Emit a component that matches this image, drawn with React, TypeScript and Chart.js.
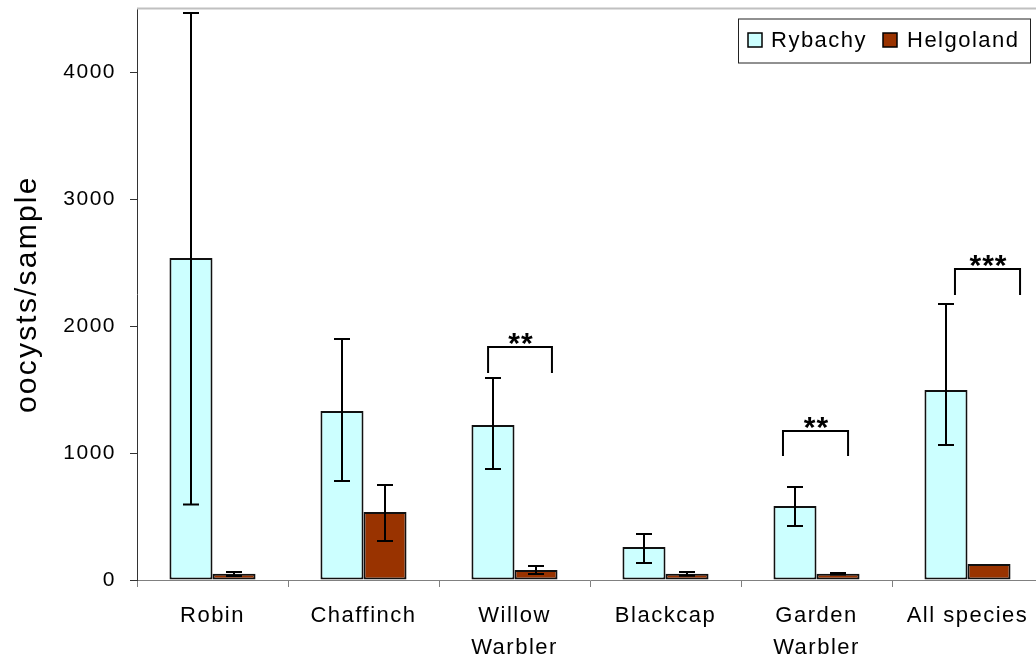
import React, { useEffect, useRef } from 'react';
import { Chart, registerables } from 'chart.js';

Chart.register(...registerables);

const categories: (string | string[])[] = ['Robin', 'Chaffinch', ['Willow', 'Warbler'], 'Blackcap', ['Garden', 'Warbler'], 'All species'];
const seriesNames = ['Rybachy', 'Helgoland'];
const rybachy = [2535, 1331, 1220, 260, 583, 1496];
const rybachyLow = [595, 780, 874, 134, 425, 1063];
const rybachyHigh = [4465, 1898, 1590, 362, 732, 2173];
const helgoland = [50, 535, 79, 50, 50, 126];
const helgolandLow: (number | null)[] = [31, 307, 47, 34, 44, null];
const helgolandHigh: (number | null)[] = [63, 748, 110, 63, 56, null];
const yTicks = [0, 1000, 2000, 3000, 4000];
const yMax = 4500;
const yTitle = 'oocysts/sample';

// significance brackets
const sigIndex = [2, 4, 5];
const sigLabels = ['**', '**', '***'];
const sigLeft = [-0.175, -0.222, -0.083];
const sigRight = [0.248, 0.209, 0.348];
const sigTop = [1835, 1173, 2449];
const sigBottom = [1630, 976, 2244];

const FONT = '"Liberation Sans", Arial, Helvetica, sans-serif';
const colors = ['#CCFFFF', '#993300'];

export default function App() {
  const ref = useRef<HTMLCanvasElement | null>(null);

  useEffect(() => {
    const canvas = ref.current;
    if (!canvas) return;

    const lows = [rybachyLow, helgolandLow];
    const highs = [rybachyHigh, helgolandHigh];

    const extras = {
      id: 'extras',
      beforeDraw(chart: any) {
        chart.ctx.letterSpacing = '1.5px';
      },
      afterDatasetsDraw(chart: any) {
        const ctx = chart.ctx;
        const y = chart.scales.y;
        const x = chart.scales.x;
        ctx.save();
        ctx.strokeStyle = '#000';
        ctx.lineWidth = 2;
        for (let d = 0; d < 2; d++) {
          const meta = chart.getDatasetMeta(d);
          meta.data.forEach((bar: any, j: number) => {
            const lo = lows[d][j];
            const hi = highs[d][j];
            if (lo == null || hi == null) return;
            const px = Math.round(bar.x);
            const y1 = y.getPixelForValue(lo);
            const y2 = y.getPixelForValue(hi);
            ctx.beginPath();
            ctx.moveTo(px, y1);
            ctx.lineTo(px, y2);
            ctx.moveTo(px - 8, y1);
            ctx.lineTo(px + 8, y1);
            ctx.moveTo(px - 8, y2);
            ctx.lineTo(px + 8, y2);
            ctx.stroke();
          });
        }
        // significance brackets
        ctx.font = `bold 30px ${FONT}`;
        ctx.fillStyle = '#000';
        ctx.textAlign = 'center';
        ctx.textBaseline = 'alphabetic';
        ctx.letterSpacing = '1px';
        sigIndex.forEach((ci, k) => {
          const xl = x.getPixelForValue(ci + sigLeft[k]);
          const xr = x.getPixelForValue(ci + sigRight[k]);
          const yt = y.getPixelForValue(sigTop[k]);
          const yb = y.getPixelForValue(sigBottom[k]);
          ctx.beginPath();
          ctx.moveTo(xl, yb);
          ctx.lineTo(xl, yt);
          ctx.lineTo(xr, yt);
          ctx.lineTo(xr, yb);
          ctx.stroke();
          ctx.fillText(sigLabels[k], (xl + xr) / 2 + 1, yt + 6);
        });
        ctx.restore();
      },
      afterDraw(chart: any) {
        const ctx = chart.ctx;
        const a = chart.chartArea;
        ctx.save();
        // top border of plot area
        ctx.strokeStyle = '#c0c0c0';
        ctx.lineWidth = 2;
        ctx.beginPath();
        ctx.moveTo(a.left, a.top);
        ctx.lineTo(a.right, a.top);
        ctx.stroke();

        // y axis title
        ctx.save();
        ctx.translate(28, (a.top + a.bottom) / 2);
        ctx.rotate(-Math.PI / 2);
        ctx.font = `30px ${FONT}`;
        ctx.letterSpacing = '2.2px';
        ctx.fillStyle = '#000';
        ctx.textAlign = 'center';
        ctx.textBaseline = 'middle';
        ctx.fillText(yTitle, 0, 0);
        ctx.restore();

        // legend
        const bl = a.right - 305;
        const bt = a.top + 10.5;
        ctx.fillStyle = '#fff';
        ctx.fillRect(bl, bt, 292, 44);
        ctx.strokeStyle = '#222';
        ctx.lineWidth = 1;
        ctx.strokeRect(bl + 0.5, bt, 292, 44);
        const sx = [bl + 10, bl + 145];
        const tx = [bl + 33, bl + 169];
        ctx.font = `22px ${FONT}`;
        ctx.letterSpacing = '1.5px';
        ctx.textAlign = 'left';
        ctx.textBaseline = 'alphabetic';
        for (let d = 0; d < 2; d++) {
          ctx.fillStyle = colors[d];
          ctx.fillRect(sx[d], bt + 14, 14, 14);
          ctx.strokeStyle = '#000';
          ctx.lineWidth = 1.5;
          ctx.strokeRect(sx[d], bt + 14, 14, 14);
          ctx.fillStyle = '#000';
          ctx.fillText(seriesNames[d], tx[d], bt + 28);
        }
        ctx.restore();
      },
    };

    const chart = new Chart(canvas, {
      type: 'bar',
      data: {
        labels: categories as any,
        datasets: [
          { label: seriesNames[0], data: rybachy, backgroundColor: colors[0], borderColor: '#111', borderWidth: 2, borderSkipped: false },
          { label: seriesNames[1], data: helgoland, backgroundColor: colors[1], borderColor: '#111', borderWidth: 2, borderSkipped: false },
        ],
      },
      options: {
        responsive: false,
        animation: false,
        layout: { padding: { left: 0, right: 17, top: 8.5, bottom: 0 } },
        datasets: { bar: { categoryPercentage: 0.57, barPercentage: 1.0 } },
        plugins: { legend: { display: false }, tooltip: { enabled: false }, title: { display: false } },
        scales: {
          x: {
            afterFit: (s: any) => { s.height = 77; s.paddingLeft = 0; s.paddingRight = 0; },
            grid: { display: true, drawOnChartArea: false, drawTicks: true, tickLength: 7, color: '#808080', offset: true },
            border: { display: true, color: '#808080', width: 1 },
            ticks: { padding: 13, maxRotation: 0, minRotation: 0, autoSkip: false, color: '#000', font: { family: FONT, size: 22, lineHeight: 32 / 22 } },
          },
          y: {
            min: 0,
            max: yMax,
            afterBuildTicks: (s: any) => { s.ticks = yTicks.map((v) => ({ value: v })); },
            afterFit: (s: any) => { s.width = 137; s.paddingTop = 0; s.paddingBottom = 0; },
            grid: { display: true, drawOnChartArea: false, drawTicks: true, tickLength: 7, color: '#333' },
            border: { display: true, color: '#333', width: 1 },
            ticks: { padding: 14, color: '#000', font: { family: FONT, size: 21 }, callback: (v: any) => String(v) },
          },
        },
      },
      plugins: [extras],
    } as any);

    return () => chart.destroy();
  }, []);

  return (
    <div style={{ position: 'absolute', left: 0, top: 0, width: 1036, height: 657, overflow: 'hidden', background: '#fff' }}>
      <canvas ref={ref} width={1060} height={657} style={{ display: 'block', width: 1060, height: 657 }} />
    </div>
  );
}
